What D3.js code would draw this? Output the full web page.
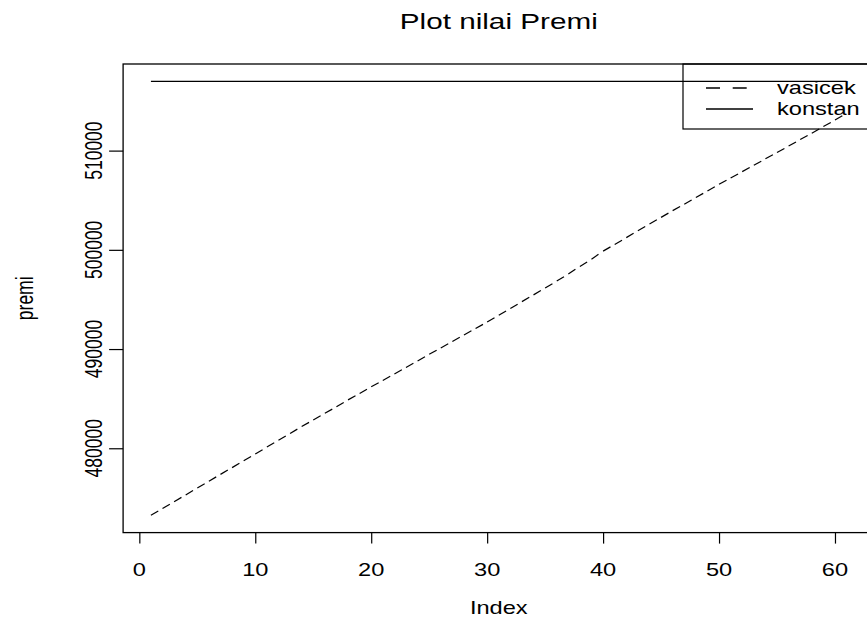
<!DOCTYPE html>
<html>
<head>
<meta charset="utf-8">
<title>Plot nilai Premi</title>
<script src="https://cdn.jsdelivr.net/npm/d3@7"></script>
<style>
  body { margin: 0; background: #fff; }
  text { font-family: "Liberation Sans", Arial, sans-serif; fill: #000; }
</style>
</head>
<body>
<div id="chart"></div>
<script>
// premi values (index 1..61)
var vasicek = [
  473250, 473930, 474620, 475300, 476000, 476680, 477370, 478050, 478740, 479420,
  480120, 480800, 481490, 482190, 482850, 483530, 484180, 484880, 485520, 486200,
  486840, 487490, 488140, 488800, 489470, 490110, 490760, 491420, 492070, 492720,
  493400, 494080, 494780, 495460, 496150, 496850, 497560, 498330, 499060, 499870,
  500540, 501230, 501920, 502600, 503270, 503950, 504600, 505270, 505930, 506600,
  507230, 507880, 508520, 509170, 509800, 510460, 511110, 511760, 512420, 513080,
  513760
];
var konstan = 516980;
var xTicks = [0, 10, 20, 30, 40, 50, 60];
var yTicks = [480000, 490000, 500000, 510000];
var legendLabels = ["vasicek", "konstan"];
var title = "Plot nilai Premi";
var xLabel = "Index";
var yLabel = "premi";

var width = 867,
  height = 623;

// the picture is stretched sideways, so text gets a horizontal scale too
var sx = 1.35;
var fontSize = 17.5;

// plot region (right edge runs past the window like in the picture)
// NOTE: can't call it "top", that's window.top
var pLeft = 123.1, pRight = 874.4, pTop = 64, pBottom = 532.6;

var svg = d3.select("#chart")
  .append("svg")
  .attr("width", width)
  .attr("height", height);

var index = d3.range(1, vasicek.length + 1);

// R style 4% padding on both axes
var xExt = d3.extent(index);
var xPad = (xExt[1] - xExt[0]) * 0.04;
var x = d3.scaleLinear()
  .domain([xExt[0] - xPad, xExt[1] + xPad])
  .range([pLeft, pRight]);

var yExt = d3.extent(vasicek.concat([konstan]));
var yPad = (yExt[1] - yExt[0]) * 0.04;
var y = d3.scaleLinear()
  .domain([yExt[0] - yPad, yExt[1] + yPad])
  .range([pBottom, pTop]);

//LINES
// vasicek: dash pattern restarts at every point, one dash per segment
svg.append("g")
  .selectAll("line")
  .data(d3.pairs(index))
  .enter().append("line")
  .attr("x1", function(d) { return x(d[0]); })
  .attr("y1", function(d) { return y(vasicek[d[0] - 1]); })
  .attr("x2", function(d) { return x(d[1]); })
  .attr("y2", function(d) { return y(vasicek[d[1] - 1]); })
  .attr("stroke", "#000")
  .attr("stroke-width", 1.2)
  .attr("stroke-dasharray", "8.5,30");

// konstan
var line = d3.line()
  .x(function(d) { return x(d); })
  .y(function() { return y(konstan); });

svg.append("path")
  .datum(index)
  .attr("d", line)
  .attr("fill", "none")
  .attr("stroke", "#000")
  .attr("stroke-width", 1.2);

//BOX
svg.append("rect")
  .attr("x", pLeft)
  .attr("y", pTop)
  .attr("width", pRight - pLeft)
  .attr("height", pBottom - pTop)
  .attr("fill", "none")
  .attr("stroke", "#000")
  .attr("stroke-width", 1.3);

//X AXIS
var xAxis = svg.append("g")
  .attr("transform", "translate(0," + pBottom + ")")
  .call(d3.axisBottom(x).tickValues(xTicks).tickSize(11).tickSizeOuter(0).tickFormat(d3.format("d")));
xAxis.select(".domain").remove();
xAxis.selectAll(".tick line").attr("stroke", "#000").attr("stroke-width", 1.2);
xAxis.selectAll(".tick text").remove();

svg.append("g")
  .selectAll("text")
  .data(xTicks)
  .enter().append("text")
  .attr("transform", function(d) {
    return "translate(" + x(d) + ",576) scale(" + sx + ",1)";
  })
  .attr("text-anchor", "middle")
  .attr("font-size", fontSize)
  .text(function(d) { return d; });

//Y AXIS
var yAxis = svg.append("g")
  .attr("transform", "translate(" + pLeft + ",0)")
  .call(d3.axisLeft(y).tickValues(yTicks).tickSize(14).tickSizeOuter(0));
yAxis.select(".domain").remove();
yAxis.selectAll(".tick line").attr("stroke", "#000").attr("stroke-width", 1.2);
yAxis.selectAll(".tick text").remove();

svg.append("g")
  .selectAll("text")
  .data(yTicks)
  .enter().append("text")
  .attr("transform", function(d) {
    return "translate(101.7," + y(d) + ") scale(" + sx + ",1) rotate(-90)";
  })
  .attr("text-anchor", "middle")
  .attr("font-size", fontSize)
  .text(function(d) { return d; });

//TITLES
svg.append("text")
  .attr("transform", "translate(" + (pLeft + pRight) / 2 + ",29.3) scale(" + sx + ",1)")
  .attr("text-anchor", "middle")
  .attr("font-size", 22)
  .text(title);

svg.append("text")
  .attr("transform", "translate(" + (pLeft + pRight) / 2 + ",614) scale(" + sx + ",1)")
  .attr("text-anchor", "middle")
  .attr("font-size", fontSize)
  .text(xLabel);

svg.append("text")
  .attr("transform", "translate(32.5," + (pTop + pBottom) / 2 + ") scale(" + sx + ",1) rotate(-90)")
  .attr("text-anchor", "middle")
  .attr("font-size", fontSize)
  .text(yLabel);

//LEGEND (no fill, lines show through like in the picture)
var legLeft = 683, legBottom = 129;
svg.append("rect")
  .attr("x", legLeft)
  .attr("y", pTop)
  .attr("width", pRight - legLeft)
  .attr("height", legBottom - pTop)
  .attr("fill", "none")
  .attr("stroke", "#000")
  .attr("stroke-width", 1.2);

var legend = svg.selectAll(".legend")
  .data(legendLabels)
  .enter().append("g")
  .attr("class", "legend")
  .attr("transform", function(d, i) {
    return "translate(0," + (88 + i * 21) + ")";
  });

legend.append("line")
  .attr("x1", 706)
  .attr("x2", 753)
  .attr("stroke", "#000")
  .attr("stroke-width", 1.5)
  .attr("stroke-dasharray", function(d, i) { return i === 0 ? "14,12.7" : null; });

legend.append("text")
  .attr("transform", "translate(777,0) scale(" + sx + ",1)")
  .attr("dy", ".35em")
  .attr("font-size", fontSize)
  .text(function(d) { return d; });
</script>
</body>
</html>
